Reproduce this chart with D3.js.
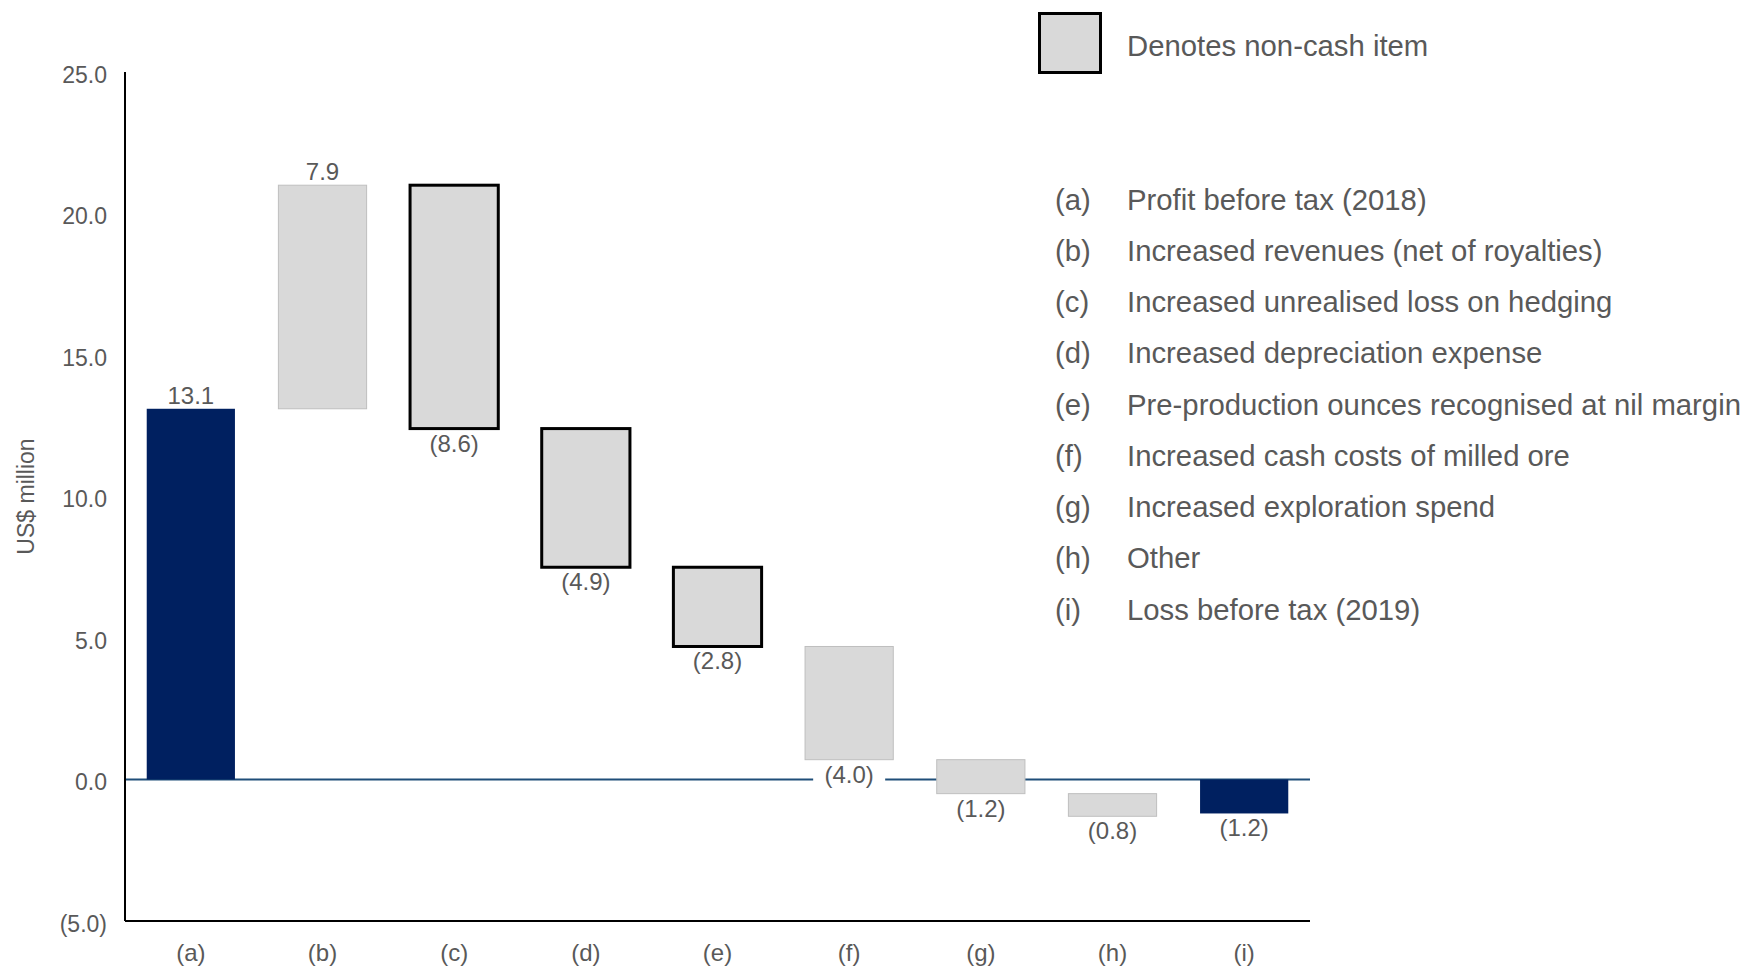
<!DOCTYPE html>
<html>
<head>
<meta charset="utf-8">
<script src="https://cdn.jsdelivr.net/npm/d3@7"></script>
<style>
  body { margin: 0; background: #fff; }
  svg text { font-family: "Liberation Sans", Arial, sans-serif; fill: #595959; }
</style>
</head>
<body>
<svg id="chart" width="1746" height="968"></svg>
<script>
// data
var categories = ["(a)", "(b)", "(c)", "(d)", "(e)", "(f)", "(g)", "(h)", "(i)"];
var changes = [13.1, 7.9, -8.6, -4.9, -2.8, -4.0, -1.2, -0.8, -1.2];
// "total" = start/end bar, "cash" = plain grey, "noncash" = outlined grey
var barTypes = ["total", "cash", "noncash", "noncash", "noncash", "cash", "cash", "cash", "total"];
var descriptions = [
  "Profit before tax (2018)",
  "Increased revenues (net of royalties)",
  "Increased unrealised loss on hedging",
  "Increased depreciation expense",
  "Pre-production ounces recognised at nil margin",
  "Increased cash costs of milled ore",
  "Increased exploration spend",
  "Other",
  "Loss before tax (2019)"
];
var yTicks = [-5, 0, 5, 10, 15, 20, 25];
var legendNote = "Denotes non-cash item";

var navy = "#002060", grey = "#d9d9d9";

var svg = d3.select("#chart");

// scales
var x = d3.scaleBand()
    .domain(categories)
    .range([125, 1310])
    .paddingInner(0.33)
    .paddingOuter(0.165);

var y = d3.scaleLinear()
    .domain([-5, 25])
    .range([921, 72]);

var fmt = d3.format(".1f");
function label(v) { return v < 0 ? "(" + fmt(-v) + ")" : fmt(v); }

// build waterfall steps
var running = 0;
var steps = categories.map(function(c, i) {
  var start, end;
  if (barTypes[i] == "total") {
    start = 0; end = changes[i];
  } else {
    start = running; end = running + changes[i];
  }
  running = end;
  return {cat: c, value: changes[i], type: barTypes[i],
          lo: Math.min(start, end), hi: Math.max(start, end)};
});

// zero line
svg.append("line")
    .attr("x1", 125).attr("x2", 1310)
    .attr("y1", y(0)).attr("y2", y(0))
    .style("stroke", "#1f4e79")
    .style("stroke-width", 2);

// bars
svg.selectAll(".bar")
    .data(steps)
  .enter().append("rect")
    .attr("class", "bar")
    .attr("x", function(d) { return x(d.cat); })
    .attr("width", x.bandwidth())
    .attr("y", function(d) { return y(d.hi); })
    .attr("height", function(d) { return y(d.lo) - y(d.hi); })
    .style("fill", function(d) { return d.type == "total" ? navy : grey; })
    .style("stroke", function(d) {
      if (d.type == "noncash") return "#000";
      if (d.type == "cash") return "#bfbfbf";
      return "none";
    })
    .style("stroke-width", function(d) { return d.type == "noncash" ? 3 : 1; });

// value labels
var lab = svg.selectAll(".lab")
    .data(steps)
  .enter().append("g")
    .attr("class", "lab")
    .attr("transform", function(d) {
      var ty = d.value >= 0 ? y(d.hi) - 5 : y(d.lo) + 23;
      return "translate(" + (x(d.cat) + x.bandwidth() / 2) + "," + ty + ")";
    });

lab.append("rect")
    .attr("x", -36).attr("width", 72)
    .attr("y", -18).attr("height", 22)
    .style("fill", "#fff")
    .style("display", function(d) {
      // only needed where the label sits on the zero line
      return (d.value < 0 && Math.abs(y(d.lo) + 23 - 8 - y(0)) < 14) ? null : "none";
    });

lab.append("text")
    .attr("text-anchor", "middle")
    .style("font-size", "24px")
    .text(function(d) { return label(d.value); });

// axes
var yAxis = svg.append("g")
    .attr("transform", "translate(125,0)")
    .call(d3.axisLeft(y).tickValues(yTicks).tickSize(0).tickPadding(18)
      .tickFormat(label));

var xAxis = svg.append("g")
    .attr("transform", "translate(0," + y(-5) + ")")
    .call(d3.axisBottom(x).tickSize(0).tickPadding(23));

xAxis.select(".domain").attr("d", "M125,0H1310");
yAxis.select(".domain").attr("d", "M0," + y(-5) + "V72");

svg.selectAll(".domain")
    .style("stroke", "#000")
    .style("stroke-width", 2);

yAxis.selectAll(".tick text")
    .attr("y", 3)
    .style("font-size", "23px");
xAxis.selectAll(".tick text").style("font-size", "24px");
svg.selectAll(".tick text")
    .style("fill", "#595959")
    .style("font-family", "'Liberation Sans', Arial, sans-serif");

// y axis title
svg.append("text")
    .attr("transform", "translate(34," + ((y(-5) + y(25)) / 2) + ") rotate(-90)")
    .attr("text-anchor", "middle")
    .style("font-size", "23px")
    .text("US$ million");

// legend: non-cash box
svg.append("rect")
    .attr("x", 1039.5).attr("y", 13.5)
    .attr("width", 61).attr("height", 59)
    .style("fill", grey)
    .style("stroke", "#000")
    .style("stroke-width", 3);

svg.append("text")
    .attr("x", 1127).attr("y", 55.5)
    .style("font-size", "29.3px")
    .text(legendNote);

// legend: category descriptions
var rows = svg.selectAll(".row")
    .data(categories)
  .enter().append("g")
    .attr("class", "row")
    .attr("transform", function(d, i) { return "translate(0," + (209.5 + i * 51.25) + ")"; });

rows.append("text")
    .attr("x", 1055)
    .style("font-size", "29.3px")
    .text(function(d) { return d; });

rows.append("text")
    .attr("x", 1127)
    .style("font-size", "29.3px")
    .text(function(d, i) { return descriptions[i]; });
</script>
</body>
</html>
